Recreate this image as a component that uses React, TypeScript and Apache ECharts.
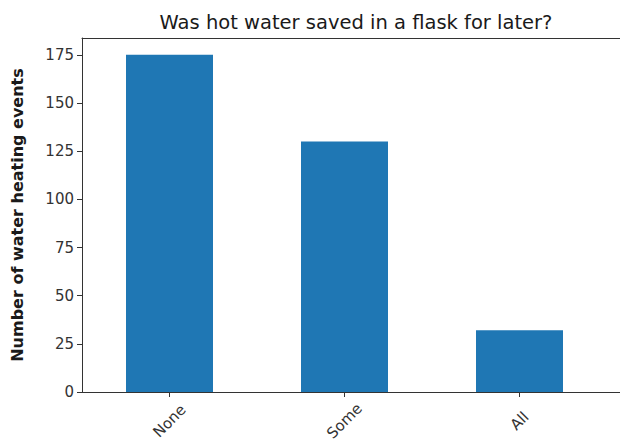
import React, { useEffect, useRef } from "react";
import * as echarts from "echarts";

const categories = ["None", "Some", "All"];
const counts = [175, 130, 32];
const yTicks = [0, 25, 50, 75, 100, 125, 150, 175];
const titleText = "Was hot water saved in a flask for later?";
const yAxisTitle = "Number of water heating events";

export default function App() {
  const ref = useRef<HTMLDivElement>(null);
  useEffect(() => {
    document.body.style.margin = "0";
    const chart = echarts.init(ref.current!, null, { renderer: "svg" });
    const xPositions = categories.map((_, i) => i + 0.5);
    const xMax = 541 / 175;
    const option: any = {
      animation: false,
      backgroundColor: "#ffffff",
      textStyle: { fontFamily: "DejaVu Sans" },
      title: {
        text: titleText,
        left: 351,
        textAlign: "center",
        top: 7,
        textStyle: { fontSize: 19.5, fontWeight: "normal", color: "#1a1a1a", fontFamily: "DejaVu Sans" },
      },
      grid: {
        left: 82,
        top: 38,
        right: -3,
        bottom: 51,
        show: false,
        containLabel: false,
        outerBoundsMode: "none",
      },
      xAxis: [
        {
          type: "value",
          min: 0,
          max: xMax,
          axisLine: { show: true, lineStyle: { color: "#333", width: 1 } },
          axisTick: { show: true, length: 5, lineStyle: { color: "#333" }, customValues: xPositions },
          axisLabel: {
            customValues: xPositions,
            rotate: 45,
            align: "center",
            verticalAlign: "middle",
            fontSize: 15,
            color: "#333",
            margin: 29,
            fontFamily: "DejaVu Sans",
            formatter: (v: number) => categories[Math.floor(v)] ?? "",
          },
          splitLine: { show: false },
        },
        {
          type: "value",
          position: "top",
          min: 0,
          max: xMax,
          axisLine: { show: true, onZero: false, lineStyle: { color: "#333", width: 1 } },
          axisTick: { show: false },
          axisLabel: { show: false },
          splitLine: { show: false },
        },
      ],
      yAxis: {
        type: "value",
        min: 0,
        max: 183.75,
        name: yAxisTitle,
        nameLocation: "middle",
        nameGap: 57,
        nameTextStyle: { fontSize: 16, fontWeight: "bold", color: "#1a1a1a", fontFamily: "DejaVu Sans" },
        axisLine: { show: true, lineStyle: { color: "#333", width: 1 } },
        axisTick: { show: true, length: 5, lineStyle: { color: "#333" }, customValues: yTicks },
        axisLabel: { customValues: yTicks, fontSize: 15, color: "#333", margin: 8, fontFamily: "DejaVu Sans" },
        splitLine: { show: false },
      },
      series: [
        {
          type: "bar",
          xAxisIndex: 0,
          data: categories.map((_, i) => [xPositions[i], counts[i]]),
          barWidth: 87,
          itemStyle: { color: "#1f77b4" },
        },
      ],
    };
    chart.setOption(option);
    return () => chart.dispose();
  }, []);
  return <div ref={ref} style={{ width: 620, height: 443 }} />;
}
